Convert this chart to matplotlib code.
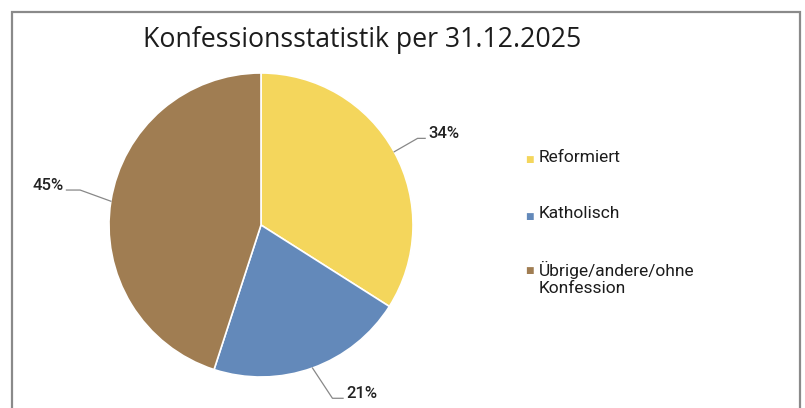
import matplotlib
matplotlib.use('Agg')
import matplotlib.pyplot as plt
from matplotlib.patches import Rectangle
import numpy as np

plt.rcParams['font.family'] = ['Open Sans', 'DejaVu Sans']

title = 'Konfessionsstatistik per 31.12.2025'
labels = ['Reformiert', 'Katholisch', 'Übrige/andere/ohne\nKonfession']
shares = [34, 21, 45]
colors = ['#F4D65C', '#6389BA', '#A07D52']

W, H = 805, 408
fig = plt.figure(figsize=(W / 100, H / 100), dpi=100)

# frame (bottom edge cut off in the original)
fig.add_artist(Rectangle((12 / W, -0.1), (800 - 12) / W, 1.1 - 12 / H,
                         transform=fig.transFigure, fill=False,
                         edgecolor='#8a8a8a', linewidth=1.6))

fig.text(362 / W, 1 - 40 / H, title, ha='center', va='center',
         fontsize=19.2, color='#1c1c1c')

# pie: centre (261, 225) px, radius 152 px
cx, cy, r = 261, 225, 152
ax = fig.add_axes([(cx - r) / W, (H - cy - r) / H, 2 * r / W, 2 * r / H])
wedges, _ = ax.pie(shares, colors=colors, startangle=90, counterclock=False,
                   radius=1, wedgeprops=dict(edgecolor='white', linewidth=1.2))
ax.set_xlim(-1, 1)
ax.set_ylim(-1, 1)
ax.set_aspect('equal')
ax.axis('off')

# leader lines: (elbow, end, text pos, align)
leaders = [((1.03, 0.57), (1.08, 0.57), (1.10, 0.60), 'left'),
           ((0.47, -1.14), (0.54, -1.14), (0.56, -1.11), 'left'),
           ((-1.19, 0.23), (-1.28, 0.23), (-1.30, 0.26), 'right')]
for w, s, (elb, end, tp, ha) in zip(wedges, shares, leaders):
    ang = np.deg2rad((w.theta1 + w.theta2) / 2)
    x0, y0 = np.cos(ang), np.sin(ang)
    ax.plot([x0, elb[0], end[0]], [y0, elb[1], end[1]], color='#888888',
            linewidth=0.9, clip_on=False)
    ax.text(tp[0], tp[1], f'{s}%', ha=ha, va='center', fontsize=12,
            fontweight='medium', color='#222222', clip_on=False,
            family=['Roboto', 'DejaVu Sans'])

# legend
leg_y = [160, 216, 271]
for lab, c, y in zip(labels, colors, leg_y):
    fig.text(529 / W, 1 - y / H, '■', ha='center', va='center',
             fontsize=6.5, color=c, family='DejaVu Sans')
    fig.text(539 / W, 1 - (y - 10) / H, lab, ha='left', va='top',
             fontsize=12.5, color='#1c1c1c', linespacing=1.2,
             family=['Roboto', 'DejaVu Sans'])

fig.savefig('out.png', dpi=100)
